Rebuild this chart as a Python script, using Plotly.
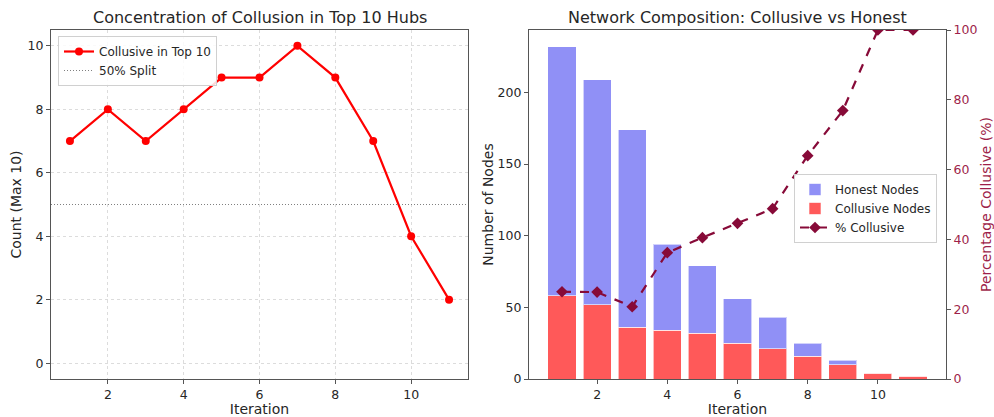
import plotly.graph_objects as go

# ---- data -------------------------------------------------------------
iterations = [1, 2, 3, 4, 5, 6, 7, 8, 9, 10, 11]
collusive_top10 = [7, 8, 7, 8, 9, 9, 10, 9, 7, 4, 2]
split_level = 5

collusive_nodes = [58, 52, 36, 34, 32, 25, 21, 16, 10, 4, 2]
honest_nodes = [174, 157, 138, 60, 47, 31, 22, 9, 3, 0, 0]
pct_collusive = [25.0, 24.9, 20.7, 36.2, 40.5, 44.6, 48.8, 64.0, 76.9, 100.0, 100.0]

x_ticks = [2, 4, 6, 8, 10]
left_y_ticks = [0, 2, 4, 6, 8, 10]
bar_y_ticks = [0, 50, 100, 150, 200]
pct_ticks = [0, 20, 40, 60, 80, 100]

# ---- styling ----------------------------------------------------------
FONT = "DejaVu Sans"
TXT = "#262626"
SPINE = "#555555"
PCT_COLOR = "#870a38"
PCT_TICK = "#9e1f4a"
W, H = 994, 417

left_dom = [51 / W, 468 / W]
right_dom = [529 / W, 946 / W]
y_dom = [1 - 379 / H, 1 - 30 / H]

fig = go.Figure()

# left panel: collusive count among top-10 hubs
fig.add_trace(go.Scatter(
    x=iterations, y=collusive_top10, mode="lines+markers",
    name="Collusive in Top 10",
    line=dict(color="#ff0000", width=2.2),
    marker=dict(color="#ff0000", size=8, symbol="circle"),
    xaxis="x", yaxis="y", legend="legend",
))
fig.add_trace(go.Scatter(
    x=[0.5, 11.5], y=[split_level, split_level], mode="lines",
    name="50% Split",
    line=dict(color="#808080", width=1.2, dash="1px,2px"),
    xaxis="x", yaxis="y", legend="legend", hoverinfo="skip",
))

# right panel: stacked node counts plus percentage on a twin axis
fig.add_trace(go.Bar(
    x=iterations, y=collusive_nodes, name="Collusive Nodes",
    marker=dict(color="rgba(255,0,0,0.65)",
                line=dict(color="rgba(255,255,255,0.6)", width=1)),
    width=0.8, xaxis="x2", yaxis="y2", legend="legend2",
    legendrank=2,
))
fig.add_trace(go.Bar(
    x=iterations, y=honest_nodes, name="Honest Nodes",
    marker=dict(color="rgba(20,20,235,0.47)",
                line=dict(color="rgba(255,255,255,0.6)", width=1)),
    width=0.8, xaxis="x2", yaxis="y2", legend="legend2",
    legendrank=1,
))
fig.add_trace(go.Scatter(
    x=iterations, y=pct_collusive, mode="lines+markers",
    name="% Collusive",
    line=dict(color=PCT_COLOR, width=2.2, dash="dash"),
    marker=dict(color=PCT_COLOR, size=9, symbol="diamond"),
    xaxis="x2", yaxis="y3", legend="legend2", legendrank=3,
))

tick_font = dict(family=FONT, size=12.5, color=TXT)
title_font = dict(family=FONT, size=14, color=TXT)

common_axis = dict(
    showline=True, linecolor=SPINE, linewidth=1.2,
    ticks="outside", ticklen=4, tickcolor=SPINE, tickwidth=1,
    tickfont=tick_font, zeroline=False, automargin=False,
)
grid_style = dict(showgrid=True, gridcolor="#dcdcdc", griddash="3px,3px",
                  gridwidth=1)

fig.update_layout(
    width=W, height=H,
    margin=dict(l=0, r=0, t=0, b=0, autoexpand=False),
    paper_bgcolor="white", plot_bgcolor="white",
    font=dict(family=FONT, color=TXT),
    barmode="stack", bargap=0.2,
    xaxis=dict(
        domain=left_dom, anchor="y", range=[0.5, 11.5],
        tickvals=x_ticks, mirror=True,
        title=dict(text="Iteration", font=title_font, standoff=4),
        **grid_style, **common_axis,
    ),
    yaxis=dict(
        domain=y_dom, anchor="x", range=[-0.5, 10.5],
        tickvals=left_y_ticks, mirror=True,
        title=dict(text="Count (Max 10)", font=title_font, standoff=2),
        **grid_style, **common_axis,
    ),
    xaxis2=dict(
        domain=right_dom, anchor="y2", range=[0.06, 11.94],
        tickvals=x_ticks, mirror=True, showgrid=False,
        title=dict(text="Iteration", font=title_font, standoff=4),
        **common_axis,
    ),
    yaxis2=dict(
        domain=y_dom, anchor="x2", range=[0, 243.6],
        tickvals=bar_y_ticks, showgrid=False,
        title=dict(text="Number of Nodes", font=title_font, standoff=0),
        **common_axis,
    ),
    yaxis3=dict(
        overlaying="y2", anchor="x2", side="right", range=[0, 100],
        tickvals=pct_ticks, showgrid=False, zeroline=False, automargin=False,
        showline=True, linecolor=SPINE, linewidth=1.2,
        ticks="outside", ticklen=4, tickcolor=SPINE,
        tickfont=dict(family=FONT, size=12.5, color=PCT_TICK),
        title=dict(text="Percentage Collusive (%)",
                   font=dict(family=FONT, size=14, color=PCT_TICK), standoff=8),
    ),
    legend=dict(
        x=58 / W, y=1 - 36 / H, xanchor="left", yanchor="top",
        bgcolor="rgba(255,255,255,0.85)", bordercolor="#d0d0d0", borderwidth=1,
        font=dict(family=FONT, size=12, color=TXT),
        tracegroupgap=0, itemwidth=30,
    ),
    legend2=dict(
        x=794 / W, y=1 - 174 / H, xanchor="left", yanchor="top",
        bgcolor="rgba(255,255,255,0.85)", bordercolor="#d0d0d0", borderwidth=1,
        font=dict(family=FONT, size=12, color=TXT),
        tracegroupgap=0, itemwidth=30, traceorder="normal",
    ),
    annotations=[
        dict(text="Concentration of Collusion in Top 10 Hubs",
             x=sum(left_dom) / 2, y=1 - 18 / H, xref="paper", yref="paper",
             showarrow=False, font=dict(family=FONT, size=16, color=TXT),
             xanchor="center", yanchor="middle"),
        dict(text="Network Composition: Collusive vs Honest",
             x=sum(right_dom) / 2, y=1 - 18 / H, xref="paper", yref="paper",
             showarrow=False, font=dict(family=FONT, size=16, color=TXT),
             xanchor="center", yanchor="middle"),
    ],
)

fig.write_html("out.html")
